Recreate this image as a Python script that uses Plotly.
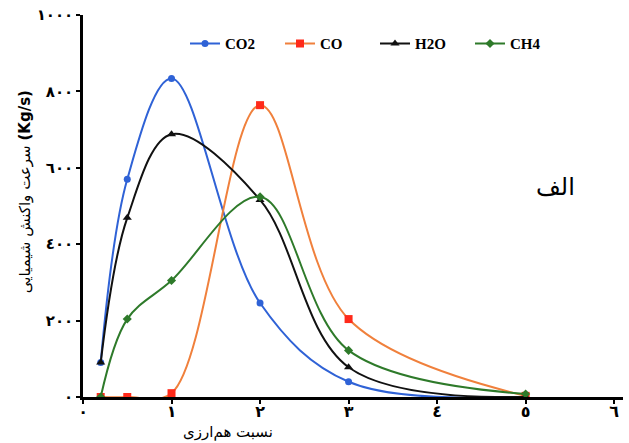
import plotly.graph_objects as go

phi = [0.2, 0.5, 1, 2, 3, 5]
co2 = [90, 570, 834, 246, 40, 0]
co = [0, 0, 10, 764, 204, 3]
h2o = [90, 469, 688, 516, 78, 0]
ch4 = [0, 204, 305, 524, 122, 8]

x_ticks = [0, 1, 2, 3, 4, 5, 6]
x_labels = ["٠", "١", "٢", "٣", "٤", "٥", "٦"]
y_ticks = [0, 200, 400, 600, 800, 1000]
y_labels = ["٠", "٢٠٠", "٤٠٠", "٦٠٠", "٨٠٠", "١٠٠٠"]

series = [
    ("CO2", co2, "#2f62d6", "#2f62d6", "circle", 7),
    ("CO", co, "#f0803c", "#ff2a1a", "square", 8),
    ("H2O", h2o, "#111111", "#111111", "triangle-up", 8),
    ("CH4", ch4, "#2e7a2a", "#2e7a2a", "diamond", 7),
]

fig = go.Figure()
for name, vals, lc, mc, sym, ms in series:
    fig.add_trace(go.Scatter(
        x=phi, y=vals, name="<b>" + name + "</b>", mode="lines+markers",
        line=dict(color=lc, width=2, shape="spline", smoothing=1.0),
        marker=dict(color=mc, symbol=sym, size=ms),
    ))

fig.update_layout(
    width=629, height=443,
    margin=dict(l=83, r=6, t=11, b=46),
    paper_bgcolor="white", plot_bgcolor="white",
    showlegend=True,
    legend=dict(orientation="h", x=(185 - 83) / 540, y=(397 - 40) / 386,
                xanchor="left", yanchor="middle",
                font=dict(family="Liberation Serif", size=15, color="black"),
                bgcolor="rgba(0,0,0,0)", entrywidth=50, entrywidthmode="pixels"),
    font=dict(family="DejaVu Sans", color="black"),
)
fig.update_xaxes(range=[0, 6.1], tickvals=x_ticks, ticktext=x_labels,
                 showline=True, linecolor="black", linewidth=2.5,
                 ticks="outside", ticklen=4, tickwidth=2, tickcolor="black",
                 showgrid=False, zeroline=False, ticklabelstandoff=-6,
                 tickfont=dict(size=16, color="black", weight="bold"))
fig.update_yaxes(range=[0, 1000], tickvals=y_ticks, ticktext=y_labels,
                 showline=True, linecolor="black", linewidth=2.5,
                 ticks="outside", ticklen=4, tickwidth=2, tickcolor="black",
                 showgrid=False, zeroline=False,
                 tickfont=dict(size=15, color="black", weight="bold"))

fig.add_annotation(text="نسبت هم‌ارزی", xref="paper", yref="paper",
                   x=(228 - 83) / 540, y=-0.092, xanchor="center", yanchor="middle",
                   showarrow=False, font=dict(size=15, color="black"))
fig.add_annotation(text="سرعت واکنش شیمیایی <b>(Kg/s)</b>", xref="paper", yref="paper",
                   x=(25 - 83) / 540, y=(397 - 190) / 386, xanchor="center", yanchor="middle",
                   textangle=-90, showarrow=False, font=dict(size=15, color="black"))
fig.add_annotation(text="الف", xref="paper", yref="paper",
                   x=(555 - 83) / 540, y=(397 - 185) / 386, xanchor="center", yanchor="middle",
                   showarrow=False, font=dict(size=24, color="black"))

fig.write_html("out.html")
